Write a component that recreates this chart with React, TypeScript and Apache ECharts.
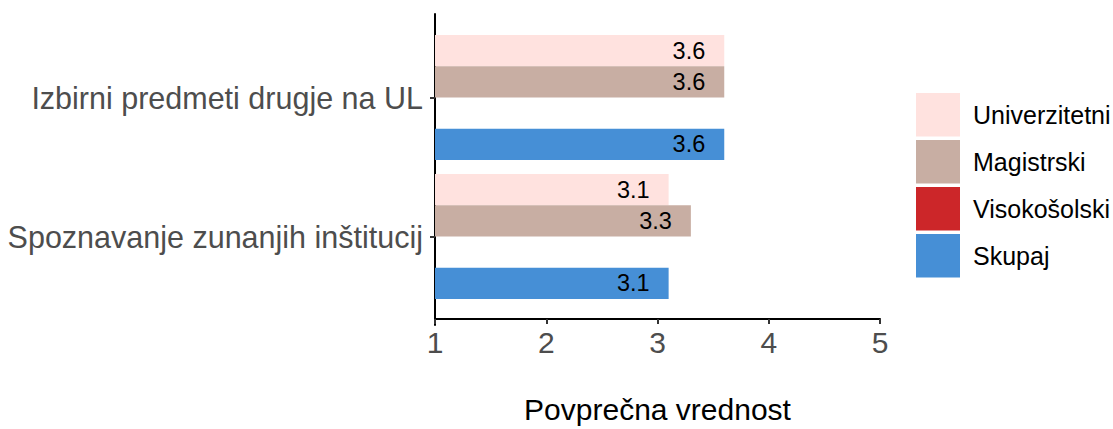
import React, { useEffect, useRef } from "react";
import * as echarts from "echarts";

const categories = ["Spoznavanje zunanjih inštitucij", "Izbirni predmeti drugje na UL"];
const seriesNames = ["Univerzitetni", "Magistrski", "Visokošolski", "Skupaj"];
const univerzitetni = [3.1, 3.6];
const magistrski = [3.3, 3.6];
const visokosolski: (number | null)[] = [null, null];
const skupaj = [3.1, 3.6];
const xTicks = [1, 2, 3, 4, 5];
const colors = ["#FFE2DF", "#C8AEA3", "#CC2629", "#468FD6"];

const FONT = "'Liberation Sans', Arial, sans-serif";

export default function App() {
  const ref = useRef<HTMLDivElement>(null);
  useEffect(() => {
    if (!ref.current) return;
    const chart = echarts.init(ref.current, null, { renderer: "svg" });
    const values = [univerzitetni, magistrski, visokosolski, skupaj];
    const mkSeries = (i: number) => ({
      name: seriesNames[i],
      type: "bar",
      xAxisIndex: 0,
      yAxisIndex: 0,
      data: values[i],
      itemStyle: { color: colors[i] },
      barGap: "0%",
      barCategoryGap: "10%",
      clip: true,
      label: {
        show: true,
        position: "insideRight",
        distance: 19,
        color: "#000",
        fontSize: 23.5,
        fontFamily: FONT,
        formatter: (p: any) => (p.value == null ? "" : Number(p.value).toFixed(1)),
      },
    });
    chart.setOption({
      animation: false,
      textStyle: { fontFamily: FONT },
      grid: [
        { left: 435, top: 28, width: 445, height: 283, containLabel: false },
        { left: 435, top: 14, width: 445, height: 311, containLabel: false },
      ],
      legend: {
        data: seriesNames,
        orient: "vertical",
        left: 916,
        top: 93,
        padding: 0,
        itemWidth: 44,
        itemHeight: 43.5,
        itemGap: 3.5,
        icon: "rect",
        textStyle: { fontSize: 25, color: "#000", fontFamily: FONT, padding: [0, 0, 0, 8] },
      },
      xAxis: [
        {
          type: "value",
          gridIndex: 0,
          min: xTicks[0],
          max: xTicks[xTicks.length - 1],
          interval: 1,
          startValue: 1,
          offset: 13,
          name: "Povprečna vrednost",
          nameLocation: "middle",
          nameGap: 75,
          nameTextStyle: { fontSize: 30, color: "#000", fontFamily: FONT },
          axisLine: { show: true, lineStyle: { color: "#000", width: 2 } },
          axisTick: { show: true, length: 5, lineStyle: { color: "#333", width: 2 } },
          axisLabel: { fontSize: 30, color: "#4D4D4D", margin: 8, fontFamily: FONT },
          splitLine: { show: false },
        },
        { type: "value", gridIndex: 1, show: false, min: 0, max: 1 },
      ],
      yAxis: [
        {
          type: "category",
          gridIndex: 0,
          data: categories,
          axisLine: { show: false },
          axisTick: { show: true, length: 5, alignWithLabel: true, lineStyle: { color: "#333", width: 2 } },
          axisLabel: { fontSize: 30.5, color: "#4D4D4D", margin: 12, fontFamily: FONT },
          splitLine: { show: false },
        },
        {
          type: "value",
          gridIndex: 1,
          min: 0,
          max: 1,
          axisLine: { show: true, lineStyle: { color: "#000", width: 2 } },
          axisTick: { show: false },
          axisLabel: { show: false },
          splitLine: { show: false },
        },
      ],
      series: [0, 1, 2, 3].map(mkSeries),
    });
    return () => chart.dispose();
  }, []);
  return (
    <div
      ref={ref}
      style={{ position: "fixed", left: 0, top: 0, width: 1113, height: 429, background: "#fff" }}
    />
  );
}
